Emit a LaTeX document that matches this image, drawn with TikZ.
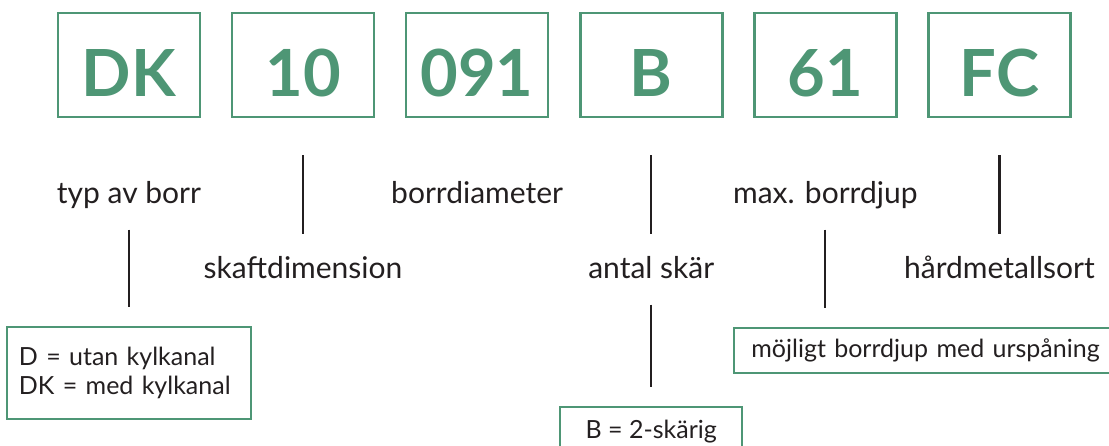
\documentclass[tikz,border=0pt]{standalone}
\usepackage{fontspec}
\setmainfont{Lato}
\usetikzlibrary{matrix,positioning}
\definecolor{kodgruen}{RGB}{78,150,117}
\definecolor{textgrau}{RGB}{35,31,32}
\tikzset{
mybox/.style={
  draw=kodgruen,
  line width=2.6pt,
  minimum width=142pt,
  minimum height=104pt,
  text=kodgruen,
  font=\fontsize{65}{78}\selectfont\bfseries,
  text height=62pt,
  text depth=0pt
  },
mylabel/.style={
  font=\fontsize{30}{36}\selectfont,
  text=textgrau,
  inner sep=0pt,
  text height=22pt,
  text depth=7pt
  },
myinfo/.style={
  draw=kodgruen,
  line width=2pt,
  text=textgrau,
  font=\fontsize{25}{29}\selectfont
  },
mybar/.style={
  draw=textgrau,
  line width=2.2pt
  }
}

\begin{document}
\begin{tikzpicture}[x=1pt,y=1pt]

\useasboundingbox (0,0) rectangle (1109,-445);

\matrix[matrix of nodes,nodes={mybox},column sep=29.5pt]
at (564.2,-65)
(code)
{
DK & 10 & 091 & B & 61 & FC \\
};

\node[mylabel,below=63pt of code-1-1] (typ) {typ av borr};
\node[mylabel,below=63pt of code-1-3] (diam) {borrdiameter};
\node[mylabel,below=63pt of code-1-5] (djup) {max. borrdjup};

\node[mylabel,below=138pt of code-1-2] (skaft) {skaftdimension};
\node[mylabel,below=138pt of code-1-4] (skaer) {antal skär};
\node[mylabel,below=138pt of code-1-6] (sort) {hårdmetallsort};

\node[myinfo,below=115pt of typ,text width=220pt,inner xsep=12pt,
  minimum height=92pt,align=left] (kyl) {D = utan kylkanal\\DK = med kylkanal};
\node[myinfo,below=116pt of djup.south,anchor=north west,xshift=-92pt,
  text width=350pt,inner xsep=17pt,minimum height=45pt,align=left] (urspan) {möjligt borrdjup med urspåning};
\node[myinfo,below=120pt of skaer,minimum width=182pt,
  minimum height=50pt] (skar) {B = 2-skärig};

\begin{scope}[shorten <=37pt,shorten >=22pt]
\draw[mybar] (code-1-2.south) -- (skaft.north);
\draw[mybar] (code-1-4.south) -- (skaer.north);
\draw[mybar] (code-1-6.south) -- (sort.north);
\end{scope}

\begin{scope}[shorten <=19pt,shorten >=19pt]
\draw[mybar] (typ.south) -- (kyl.north);
\draw[mybar] (djup.south) -- (djup.south |- urspan.north);
\draw[mybar] (skaer.south) -- (skar.north);
\end{scope}

\end{tikzpicture}
\end{document}
